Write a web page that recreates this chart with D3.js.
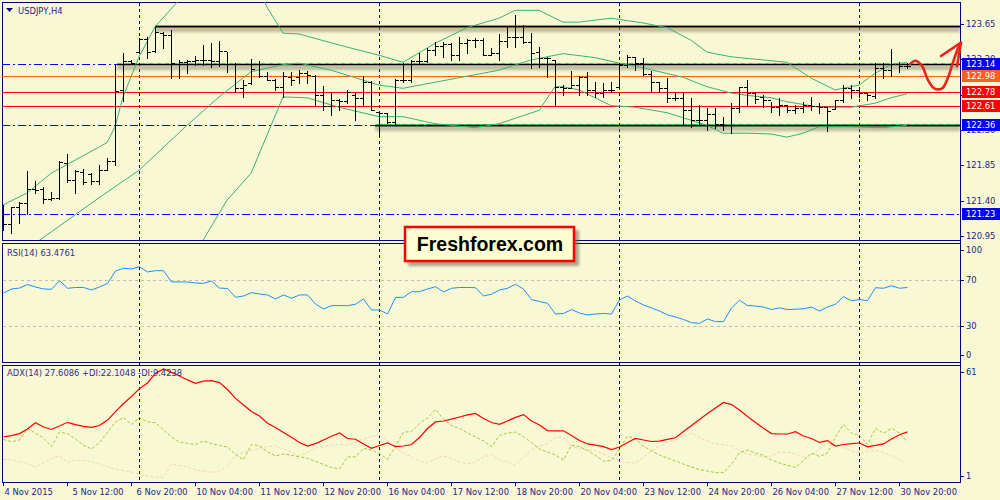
<!DOCTYPE html>
<html>
<head>
<meta charset="utf-8">
<script src="https://cdn.jsdelivr.net/npm/d3@7"></script>
<style>
  body { margin: 0; background: #f8f8d4; }
  svg { display: block; }
</style>
</head>
<body>
<svg id="chart" width="1000" height="500"></svg>
<script>
// ---- data ----
const timeLabels = ["4 Nov 2015", "5 Nov 12:00", "6 Nov 20:00", "10 Nov 04:00", "11 Nov 12:00", "12 Nov 20:00",
  "16 Nov 04:00", "17 Nov 12:00", "18 Nov 20:00", "20 Nov 04:00", "23 Nov 12:00", "24 Nov 20:00",
  "26 Nov 04:00", "27 Nov 12:00", "30 Nov 20:00"];
const weekStartBars = [17, 47, 77, 107];

const opens = [121.20,121.11,121.32,121.37,121.55,121.55,121.42,121.44,121.88,121.67,
  121.77,121.74,121.65,121.79,121.91,122.81,123.18,123.29,123.46,123.30,
  123.53,123.51,123.14,123.16,123.18,123.19,123.19,123.18,123.30,123.14,
  122.83,122.90,123.14,122.99,122.94,122.85,122.97,122.97,123.02,122.99,
  122.74,122.61,122.68,122.67,122.74,122.71,122.91,122.53,122.52,122.40,
  122.94,122.94,123.18,123.18,123.32,123.37,123.39,123.25,123.40,123.44,
  123.44,123.25,123.28,123.43,123.48,123.48,123.42,123.29,123.22,123.19,
  122.85,122.83,122.87,122.97,122.81,122.77,122.81,122.85,123.13,123.23,
  123.15,123.01,122.91,122.83,122.71,122.71,122.55,122.43,122.43,122.50,
  122.38,122.36,122.58,122.85,122.77,122.72,122.68,122.59,122.62,122.55,
  122.58,122.62,122.61,122.59,122.57,122.68,122.83,122.81,122.77,122.73,
  123.09,123.06,123.14,123.11];
const highs = [121.35,121.32,121.39,121.78,121.65,121.58,121.51,121.91,122.00,121.79,
  121.81,121.75,121.86,121.94,123.13,123.28,123.19,123.47,123.48,123.61,
  123.55,123.57,123.19,123.19,123.24,123.38,123.40,123.43,123.29,123.15,
  122.94,123.20,123.18,123.04,122.95,123.04,123.04,123.06,123.05,123.00,
  122.86,122.77,122.69,122.81,122.77,122.99,122.92,122.53,122.52,122.95,
  123.15,123.19,123.28,123.34,123.42,123.42,123.40,123.48,123.46,123.47,
  123.47,123.34,123.52,123.61,123.76,123.63,123.53,123.35,123.23,123.19,
  122.87,123.05,122.99,123.04,122.91,122.90,122.91,123.15,123.25,123.23,
  123.22,123.05,122.91,122.96,122.77,122.77,122.71,122.62,122.58,122.58,
  122.47,122.64,122.85,122.94,122.78,122.75,122.66,122.71,122.62,122.62,
  122.66,122.72,122.64,122.59,122.68,122.87,122.87,122.85,122.77,123.15,
  123.15,123.33,123.16,123.15];
const lows = [121.03,120.99,121.12,121.23,121.50,121.37,121.41,121.42,121.64,121.50,
  121.61,121.61,121.61,121.79,121.86,122.67,123.14,123.28,123.22,123.29,
  123.34,122.96,122.96,123.02,123.13,123.13,123.10,123.11,123.04,122.78,
  122.72,122.88,122.97,122.94,122.81,122.72,122.87,122.90,122.90,122.62,
  122.55,122.49,122.55,122.64,122.43,122.62,122.55,122.21,122.39,122.38,
  122.91,122.91,123.15,123.16,123.25,123.23,123.19,123.19,123.28,123.35,
  123.25,123.25,123.19,123.35,123.35,123.40,123.09,123.10,122.97,122.62,
  122.74,122.83,122.74,122.74,122.72,122.72,122.78,122.85,123.10,123.06,
  123.00,122.78,122.78,122.66,122.68,122.36,122.34,122.36,122.30,122.33,
  122.30,122.26,122.53,122.62,122.64,122.59,122.53,122.49,122.53,122.52,
  122.53,122.55,122.52,122.29,122.57,122.66,122.71,122.72,122.68,122.71,
  122.96,122.99,123.04,123.09];
const closes = [121.11,121.32,121.37,121.55,121.54,121.42,121.44,121.89,121.67,121.78,
  121.64,121.65,121.79,121.91,122.80,123.18,123.15,123.46,123.29,123.55,
  123.51,123.15,123.16,123.18,123.19,123.19,123.18,123.30,123.14,122.83,
  122.87,123.08,122.99,122.94,122.85,122.99,122.94,123.02,123.00,122.74,
  122.61,122.68,122.67,122.78,122.71,122.91,122.55,122.52,122.40,122.94,
  122.94,123.18,123.18,123.32,123.37,123.39,123.25,123.40,123.44,123.44,
  123.25,123.28,123.43,123.48,123.48,123.42,123.28,123.22,123.22,122.85,
  122.83,122.87,122.97,122.81,122.77,122.81,122.81,123.13,123.23,123.15,
  123.01,122.91,122.83,122.71,122.71,122.55,122.43,122.43,122.50,122.38,
  122.36,122.58,122.85,122.77,122.69,122.68,122.59,122.62,122.55,122.58,
  122.62,122.61,122.59,122.54,122.68,122.83,122.81,122.77,122.74,123.09,
  123.06,123.14,123.11,123.11];

// Bollinger bands, [bar, price]
const bbUpper = [[0,121.35],[3,121.50],[6,121.75],[13,122.14],[14,122.34],[15,122.72],[17,123.23],[19,123.61],
  [22,123.95],[25,124.45],[28,124.60],[31,124.35],[33,123.86],[35,123.53],[37,123.52],[42,123.38],[47,123.25],
  [50,123.16],[54,123.40],[58,123.60],[62,123.72],[64,123.82],[67,123.82],[70,123.67],[72,123.67],[76,123.72],
  [80,123.66],[83,123.60],[86,123.44],[88,123.29],[91,123.23],[93,123.21],[98,123.16],[101,122.96],[104,122.81],
  [107,122.87],[109,123.02],[111,123.13],[113,123.16]];
const bbMiddle = [[0,120.62],[4,120.86],[12,121.44],[17,121.79],[23,122.36],[27,122.72],[31,123.04],[35,123.13],
  [37,123.15],[41,123.06],[47,122.87],[50,122.83],[62,123.06],[66,123.19],[70,123.27],[74,123.22],[77,123.15],
  [80,123.09],[85,122.97],[88,122.85],[91,122.77],[93,122.74],[96,122.71],[98,122.66],[102,122.59],[106,122.59],
  [109,122.64],[111,122.71],[113,122.76]];
const bbLower = [[0,119.76],[10,120.14],[20,120.62],[25,120.90],[28,121.41],[31,121.75],[35,122.72],[38,122.71],
  [42,122.59],[47,122.47],[50,122.47],[54,122.38],[59,122.33],[62,122.38],[67,122.55],[69,122.85],[70,122.85],
  [72,122.81],[76,122.61],[79,122.59],[83,122.52],[88,122.36],[90,122.26],[93,122.26],[96,122.25],[98,122.21],
  [100,122.26],[102,122.34],[106,122.34],[110,122.33],[113,122.36]];

const rsi = [58.7,62.2,63.0,66.1,63.9,62.2,61.9,69.4,62.8,63.5,
  63.5,61.3,63.9,67.0,77.8,80.2,79.6,81.6,77.0,78.1,
  78.1,68.3,68.3,68.3,67.4,67.1,69.1,63.0,62.6,55.0,
  56.1,59.0,57.8,57.0,53.5,57.0,54.1,57.0,57.0,49.1,
  44.8,47.7,47.7,47.7,48.9,53.5,43.9,43.9,40.4,54.8,
  55.0,59.8,59.8,62.2,64.2,59.6,62.8,63.5,63.5,63.3,
  56.1,57.6,61.3,62.8,66.3,62.2,53.0,51.3,49.7,40.4,
  40.9,44.3,41.3,39.6,40.4,40.9,40.4,52.6,56.1,51.7,
  48.3,45.7,43.0,39.6,37.8,35.7,32.9,32.3,36.1,33.8,
  33.8,45.7,52.4,47.8,47.4,46.5,44.3,45.8,44.3,44.6,
  45.0,46.5,43.0,46.5,48.9,55.5,52.0,53.0,52.0,63.3,
  62.8,65.0,62.8,63.5];
const adx = [25.0,25.6,26.7,29.1,32.5,30.2,28.9,30.7,32.7,31.5,
  30.5,30.0,31.0,33.9,38.4,42.7,46.4,50.6,53.6,58.7,
  61.0,59.2,57.3,55.2,53.4,54.6,54.8,53.8,50.1,45.4,
  41.9,38.4,36.0,32.2,29.9,27.3,24.8,22.0,20.1,21.4,
  23.3,25.3,27.0,24.1,23.7,21.2,18.9,20.4,21.8,19.8,
  20.1,20.9,24.6,29.4,32.9,33.4,34.4,35.5,36.6,37.4,
  34.7,32.6,31.6,33.4,35.3,36.8,33.4,31.3,28.3,28.1,
  28.2,25.7,23.0,21.2,20.6,19.8,18.2,19.6,22.0,24.1,
  23.3,22.5,22.7,23.6,24.5,27.8,31.0,34.2,37.4,40.3,
  43.2,42.1,39.2,35.8,32.6,29.5,26.7,26.5,26.5,27.7,
  25.4,24.1,22.0,23.0,20.1,20.9,21.4,21.7,19.7,20.4,
  21.2,23.8,26.1,27.6];
const plusDI = [23.6,22.4,23.3,29.4,27.0,24.4,19.8,27.5,26.7,23.8,
  20.6,18.5,22.0,27.5,32.9,35.2,31.5,35.2,32.9,32.5,
  28.6,24.9,22.2,21.5,20.9,22.8,21.4,20.4,19.6,15.6,
  12.7,20.9,20.1,17.1,14.8,15.9,15.1,14.4,13.5,11.9,
  10.3,8.7,7.9,14.3,14.4,18.9,18.0,16.1,13.0,20.1,
  27.5,27.7,32.1,35.0,39.5,34.4,31.0,29.4,27.0,24.9,
  22.8,19.8,25.7,27.0,27.5,25.0,22.0,18.5,16.9,15.3,
  12.7,20.6,19.8,17.7,15.1,12.1,12.4,18.5,25.4,23.8,
  20.1,17.5,15.3,13.7,12.1,10.5,9.0,7.6,6.8,6.0,
  6.0,10.5,16.4,18.0,16.4,15.1,12.7,11.1,9.8,8.7,
  12.4,16.4,14.5,16.4,24.9,31.6,26.9,25.7,20.9,29.5,
  26.9,29.5,27.0,22.1];
const minusDI = [13.0,12.7,11.9,10.9,9.0,11.1,13.7,14.8,11.6,12.7,
  12.4,11.9,10.5,9.0,7.6,7.1,6.3,5.2,4.2,3.4,
  3.6,10.3,9.8,9.0,7.4,6.8,6.1,7.1,9.5,15.3,
  16.7,17.7,19.0,19.8,20.1,18.5,16.9,14.8,16.9,19.0,
  19.7,20.6,20.9,20.6,22.2,23.8,25.2,25.7,23.0,19.0,
  16.4,14.3,12.1,11.1,13.2,14.8,13.7,11.6,10.5,11.6,
  14.3,15.6,12.7,11.9,9.8,14.3,18.0,20.1,21.4,24.9,
  24.5,20.1,18.5,18.0,17.5,15.9,14.0,12.1,11.3,11.1,
  14.3,17.5,19.8,22.2,23.3,25.4,27.0,24.4,22.8,21.2,
  20.9,20.1,17.5,15.9,15.1,14.3,14.8,16.9,16.7,15.9,
  14.0,15.3,18.5,21.4,20.4,19.0,17.7,16.4,17.5,17.7,
  16.9,14.8,12.9,9.4];

const priceTicks = [120.95, 121.40, 121.85, 122.30, 122.75, 123.20, 123.65];
const rsiTicks = [0, 30, 70, 100];
const rsiLevels = [30, 70];
const adxTicks = [1, 61];
const levelPrices = [123.14, 122.98, 122.78, 122.61, 122.36, 121.23];
const channelPrices = [123.62, 123.14, 122.36];
const channelStartBars = [19, 14.25, 46.5];
// hand drawn forecast arrow, [bar, price]
const arrowPath = [[113.4,123.14],[114.1,123.18],[114.9,123.11],[115.6,122.94],[116.4,122.83],
  [117.4,122.83],[118.1,122.96],[118.75,123.16],[119.4,123.34],[119.75,123.41]];
const arrowHead = [[117.25,123.24],[119.75,123.41],[119.25,123.11]];

// ---- drawing ----
const svg = d3.select('#chart');
const navy = '#000080';
const font = '"DejaVu Sans", Tahoma, sans-serif';
const left = 2, right = 960;
const mainTop = 2, mainBottom = 240, rsiTop = 243, rsiBottom = 362, adxTop = 365, adxBottom = 482;

const x = d3.scaleLinear().domain([0, 113]).range([3, 907]);
const yMain = d3.scaleLinear().domain([120.904, 123.913]).range([mainBottom, 3]);
const yRsi = d3.scaleLinear().domain([0, 100]).range([360.5, 245.5]);
const yAdx = d3.scaleLinear().domain([1, 61]).range([482, 369]);

const defs = svg.append('defs');
defs.append('filter').attr('id', 'blur')
    .attr('x', '-10%').attr('y', '-200%').attr('width', '120%').attr('height', '500%')
    .append('feGaussianBlur').attr('stdDeviation', 1.8);
defs.append('clipPath').attr('id', 'clipMain')
  .append('rect').attr('x', left).attr('y', mainTop).attr('width', right - left).attr('height', mainBottom - mainTop);

svg.append('rect').attr('width', 1000).attr('height', 500).attr('fill', '#f8f8d4');

// panel frames
[[mainTop, mainBottom], [rsiTop, rsiBottom], [adxTop, adxBottom]].forEach(function(p) {
    svg.append('rect')
        .attr('x', left + 0.5).attr('y', p[0] + 0.5)
        .attr('width', right - left).attr('height', p[1] - p[0])
        .attr('fill', 'none').attr('stroke', navy).attr('stroke-width', 1);
});

// week separators
svg.append('g').selectAll('line').data(weekStartBars).enter().append('line')
    .attr('x1', d => Math.round(x(d)) + 0.5).attr('x2', d => Math.round(x(d)) + 0.5)
    .attr('y1', mainTop + 1).attr('y2', adxBottom)
    .attr('stroke', navy).attr('stroke-width', 1).attr('stroke-dasharray', '3,3');

const main = svg.append('g').attr('clip-path', 'url(#clipMain)');

// horizontal levels
const levelColor = ['#0000ff', '#ff5a1a', '#ff0000', '#ff0000', '#0000ff', '#0000ff'];
const levelDash = ['8,3,2,3', null, null, null, '8,3,2,3', '8,3,2,3'];
const levelEnd = [139, right, right, right, x(46.5), right];
levelPrices.forEach(function(p, k) {
    const yy = Math.round(yMain(p)) + 0.5;
    main.append('line')
        .attr('x1', left).attr('x2', levelEnd[k]).attr('y1', yy).attr('y2', yy)
        .attr('stroke', levelColor[k]).attr('stroke-width', 1)
        .attr('stroke-dasharray', levelDash[k]);
});

// drawn channel lines with shadow
channelPrices.forEach(function(p, k) {
    const yy = Math.round(yMain(p));
    const x0 = x(channelStartBars[k]);
    main.append('rect')
        .attr('x', x0).attr('y', yy + 1).attr('width', right - x0).attr('height', 5)
        .attr('fill', '#8a8a70').attr('opacity', 0.55).attr('filter', 'url(#blur)');
    main.append('line')
        .attr('x1', x0).attr('x2', right).attr('y1', yy + 0.5).attr('y2', yy + 0.5)
        .attr('stroke', '#000').attr('stroke-width', k === 1 ? 1.3 : 2);
    main.append('line')
        .attr('x1', x0).attr('x2', right).attr('y1', yy - 0.5).attr('y2', yy - 0.5)
        .attr('stroke', '#22dd22').attr('stroke-width', 1)
        .attr('stroke-dasharray', k === 0 ? null : '4,4');
});

// Bollinger bands
const bandLine = d3.line().x(d => x(d[0])).y(d => yMain(d[1]));
[bbUpper, bbMiddle, bbLower].forEach(function(b) {
    main.append('path').datum(b)
        .attr('d', bandLine)
        .attr('fill', 'none').attr('stroke', '#3cb371').attr('stroke-width', 1);
});

// OHLC bars
const bars = d3.range(opens.length).map(i => ({i: i, o: opens[i], h: highs[i], l: lows[i], c: closes[i]}));
const barG = main.append('g').attr('stroke', '#000').attr('stroke-width', 1).attr('shape-rendering', 'crispEdges');
barG.selectAll('.hl').data(bars).enter().append('line').attr('class', 'hl')
    .attr('x1', d => x(d.i) + 0.5).attr('x2', d => x(d.i) + 0.5)
    .attr('y1', d => yMain(d.h)).attr('y2', d => yMain(d.l) + 1);
barG.selectAll('.op').data(bars).enter().append('line').attr('class', 'op')
    .attr('x1', d => x(d.i) - 3).attr('x2', d => x(d.i))
    .attr('y1', d => Math.round(yMain(d.o)) + 0.5).attr('y2', d => Math.round(yMain(d.o)) + 0.5);
barG.selectAll('.cl').data(bars).enter().append('line').attr('class', 'cl')
    .attr('x1', d => x(d.i) + 1).attr('x2', d => x(d.i) + 4)
    .attr('y1', d => Math.round(yMain(d.c)) + 0.5).attr('y2', d => Math.round(yMain(d.c)) + 0.5);

// symbol title
svg.append('path').attr('d', 'M6,8 L13,8 L9.5,12 Z').attr('fill', navy);
svg.append('text').attr('x', 18).attr('y', 14)
    .attr('font-family', font).attr('font-size', 8.4).attr('fill', '#23238c')
    .text('USDJPY,H4');

// right axis
svg.append('line').attr('x1', right + 0.5).attr('x2', right + 0.5).attr('y1', mainTop).attr('y2', adxBottom + 1)
    .attr('stroke', navy);

function axisLabels(ticks, yPos, lo, hi) {
    const g = svg.append('g');
    ticks.forEach(function(t) {
        const yy = Math.max(lo, Math.min(hi, yPos(t)));
        g.append('line').attr('x1', right).attr('x2', right + 4)
            .attr('y1', Math.round(yy) + 0.5).attr('y2', Math.round(yy) + 0.5).attr('stroke', navy);
        g.append('text').attr('x', right + 6).attr('y', yy).attr('dy', '0.35em')
            .attr('font-family', font).attr('font-size', 8.4).attr('fill', '#23238c')
            .text(t);
    });
}
axisLabels(priceTicks.map(d => d.toFixed(2)), d => yMain(+d), 10, 236);
axisLabels(rsiTicks, yRsi, 250, 355);
axisLabels(adxTicks, yAdx, 372, 476);

// level price tags
levelPrices.forEach(function(p, k) {
    const yy = Math.round(yMain(p));
    const bg = k === 1 ? '#ff6020' : levelColor[k];
    svg.append('rect').attr('x', right + 2).attr('y', yy - 6).attr('width', 40).attr('height', 12)
        .attr('fill', bg);
    svg.append('text').attr('x', right + 6).attr('y', yy).attr('dy', '0.36em')
        .attr('font-family', font).attr('font-size', 8.4).attr('fill', '#fff')
        .text(p.toFixed(2));
});

// RSI panel
const rsiG = svg.append('g');
rsiLevels.forEach(function(v) {
    rsiG.append('line').attr('x1', left + 1).attr('x2', right).attr('y1', Math.round(yRsi(v)) + 0.5).attr('y2', Math.round(yRsi(v)) + 0.5)
        .attr('stroke', '#c0c0b8').attr('stroke-dasharray', '3,3');
});
rsiG.append('path').datum(rsi)
    .attr('d', d3.line().x((d, i) => x(i) + 0.5).y(d => yRsi(d)))
    .attr('fill', 'none').attr('stroke', '#1e90ff').attr('stroke-width', 1);
rsiG.append('text').attr('x', 7).attr('y', 253).attr('dy', '0.35em')
    .attr('font-family', font).attr('font-size', 8.4).attr('fill', '#2e2e8a')
    .text('RSI(14) 63.4761');

// ADX panel
const adxG = svg.append('g');
const adxLine = d3.line().x((d, i) => x(i) + 0.5).y(d => yAdx(d));
adxG.append('path').datum(minusDI).attr('d', adxLine)
    .attr('fill', 'none').attr('stroke', '#f7d2b0').attr('stroke-width', 1).attr('stroke-dasharray', '3,2');
adxG.append('path').datum(plusDI).attr('d', adxLine)
    .attr('fill', 'none').attr('stroke', '#9acd32').attr('stroke-width', 1).attr('stroke-dasharray', '3,2');
adxG.append('path').datum(adx).attr('d', adxLine)
    .attr('fill', 'none').attr('stroke', '#ff0000').attr('stroke-width', 1.2);
adxG.append('text').attr('x', 7).attr('y', 373.5).attr('dy', '0.35em')
    .attr('font-family', font).attr('font-size', 8.4).attr('fill', '#2e2e8a')
    .text('ADX(14) 27.6086 +DI:22.1048 -DI:9.4238');

// time axis
const timeG = svg.append('g');
timeLabels.forEach(function(t, k) {
    const bx = Math.round(x(k * 8)) + 0.5;
    timeG.append('line').attr('x1', bx).attr('x2', bx).attr('y1', adxBottom).attr('y2', adxBottom + 4)
        .attr('stroke', navy);
    const pad = (k > 0 && /^\d /.test(t)) ? 5 : 1;
    timeG.append('text').attr('x', bx + pad).attr('y', 495)
        .attr('font-family', font).attr('font-size', 8.4).attr('fill', '#23238c')
        .text(t);
});

// forecast arrow
const arrowLine = d3.line().x(d => x(d[0])).y(d => yMain(d[1]));
svg.append('path').datum(arrowPath)
    .attr('d', arrowLine.curve(d3.curveCatmullRom))
    .attr('fill', 'none').attr('stroke', '#e8241c').attr('stroke-width', 2.6).attr('stroke-linecap', 'round');
svg.append('path').datum(arrowHead)
    .attr('d', d3.line().x(d => x(d[0])).y(d => yMain(d[1])))
    .attr('fill', 'none').attr('stroke', '#e8241c').attr('stroke-width', 2.6)
    .attr('stroke-linecap', 'round').attr('stroke-linejoin', 'round');

// watermark box
const wm = svg.append('g');
wm.append('rect').attr('x', 408).attr('y', 230).attr('width', 171).attr('height', 36)
    .attr('fill', '#6e6e5a').attr('opacity', 0.6).attr('filter', 'url(#blur)');
wm.append('rect').attr('x', 405).attr('y', 227).attr('width', 169).attr('height', 34)
    .attr('fill', '#ffffd2').attr('stroke', '#ff0000').attr('stroke-width', 2.5);
wm.append('text').attr('x', 490).attr('y', 251).attr('text-anchor', 'middle')
    .attr('font-family', '"Liberation Sans", Arial, sans-serif').attr('font-weight', 'bold')
    .attr('font-size', 19.5).attr('fill', '#000')
    .text('Freshforex.com');
</script>
</body>
</html>
